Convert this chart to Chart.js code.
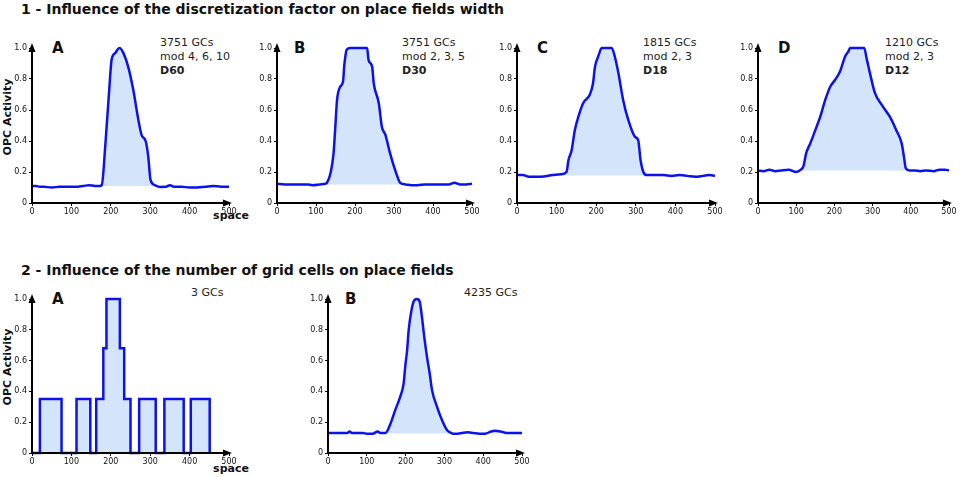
<!DOCTYPE html>
<html>
<head>
<meta charset="utf-8">
<script src="https://cdn.jsdelivr.net/npm/chart.js@4.4.1/dist/chart.umd.min.js"></script>
<style>
  body { margin: 0; background: #fff; width: 964px; height: 477px; position: relative; overflow: hidden; font-family: "DejaVu Sans", sans-serif; color: #111; }
  canvas { position: absolute; }
  .t { position: absolute; white-space: nowrap; }
  .title { font-size: 14px; font-weight: bold; line-height: 14px; }
  .note { font-size: 11px; line-height: 14px; color: #222; }
  .letter { font-size: 15px; font-weight: bold; line-height: 15px; }
  .ylab { font-size: 11px; font-weight: bold; line-height: 12px; transform: translate(-50%, -50%) rotate(-90deg); }
  .xlab { font-size: 11px; font-weight: bold; line-height: 12px; transform: translate(-50%, -50%); }
</style>
</head>
<body>

<div class="t title" style="left:21px; top:2px;">1 - Influence of the discretization factor on place fields width</div>
<div class="t title" style="left:21px; top:263px;">2 - Influence of the number of grid cells on place fields</div>

<div class="t ylab" style="left:8px; top:117px;">OPC Activity</div>
<div class="t ylab" style="left:8px; top:367px;">OPC Activity</div>
<div class="t xlab" style="left:231px; top:216px;">space</div>
<div class="t xlab" style="left:231px; top:469px;">space</div>

<div class="t letter" style="left:52px; top:41px;">A</div>
<div class="t letter" style="left:294px; top:41px;">B</div>
<div class="t letter" style="left:537px; top:41px;">C</div>
<div class="t letter" style="left:778px; top:41px;">D</div>
<div class="t letter" style="left:52px; top:292px;">A</div>
<div class="t letter" style="left:345px; top:292px;">B</div>

<div class="t note" style="left:160px; top:36px;">3751 GCs<br>mod 4, 6, 10<br><b>D60</b></div>
<div class="t note" style="left:402px; top:36px;">3751 GCs<br>mod 2, 3, 5<br><b>D30</b></div>
<div class="t note" style="left:643px; top:36px;">1815 GCs<br>mod 2, 3<br><b>D18</b></div>
<div class="t note" style="left:885px; top:36px;">1210 GCs<br>mod 2, 3<br><b>D12</b></div>
<div class="t note" style="left:191px; top:286px;">3 GCs</div>
<div class="t note" style="left:464px; top:286px;">4235 GCs</div>

<canvas id="c1a"></canvas>
<canvas id="c1b"></canvas>
<canvas id="c1c"></canvas>
<canvas id="c1d"></canvas>
<canvas id="c2a"></canvas>
<canvas id="c2b"></canvas>

<script>
// tick labels
const spaceTicks = [0, 100, 200, 300, 400, 500];
const activityTicks = [0, 0.2, 0.4, 0.6, 0.8, 1];

// 1A - D60, 3751 GCs
const spaceD60 = [0, 10, 20, 30, 50, 70, 90, 110, 130, 145, 160, 172, 177, 187, 196, 202, 211, 222, 232, 244, 257, 270, 278, 289, 295, 301, 312, 325, 340, 350, 360, 380, 400, 420, 440, 460, 480, 500];
const opcD60 = [0.11, 0.11, 0.105, 0.105, 0.10, 0.105, 0.105, 0.105, 0.11, 0.115, 0.11, 0.11, 0.115, 0.406, 0.73, 0.924, 0.967, 1.0, 0.967, 0.88, 0.73, 0.536, 0.44, 0.395, 0.30, 0.147, 0.115, 0.104, 0.105, 0.115, 0.105, 0.105, 0.10, 0.10, 0.105, 0.11, 0.105, 0.105];

// 1B - D30, 3751 GCs
const spaceD30 = [0, 20, 40, 60, 80, 90, 110, 125, 128, 137, 145, 149, 154, 162, 169, 173, 179, 188, 231, 235, 244, 248, 261, 269, 278, 290, 306, 316, 330, 345, 360, 380, 400, 420, 440, 455, 470, 485, 500];
const opcD30 = [0.125, 0.12, 0.12, 0.12, 0.12, 0.115, 0.12, 0.125, 0.13, 0.19, 0.32, 0.47, 0.665, 0.75, 0.78, 0.90, 0.99, 1.0, 1.0, 0.92, 0.88, 0.773, 0.644, 0.49, 0.44, 0.32, 0.19, 0.13, 0.12, 0.115, 0.115, 0.12, 0.12, 0.12, 0.12, 0.13, 0.12, 0.12, 0.125];

// 1C - D18, 1815 GCs
const spaceD18 = [0, 15, 30, 60, 90, 110, 125, 130, 138, 146, 155, 167, 184, 192, 197, 205, 214, 239, 247, 256, 268, 281, 298, 306, 312, 319, 328, 350, 370, 390, 410, 430, 450, 470, 485, 500];
const opcD18 = [0.18, 0.18, 0.17, 0.17, 0.18, 0.185, 0.20, 0.277, 0.34, 0.47, 0.557, 0.644, 0.70, 0.773, 0.88, 0.945, 1.0, 1.0, 0.945, 0.838, 0.665, 0.536, 0.427, 0.406, 0.277, 0.20, 0.18, 0.18, 0.18, 0.175, 0.18, 0.175, 0.17, 0.175, 0.18, 0.175];

// 1D - D12, 1210 GCs
const spaceD12 = [0, 15, 30, 45, 60, 80, 100, 112, 119, 126, 137, 150, 163, 176, 189, 202, 215, 228, 237, 241, 278, 285, 293, 306, 324, 345, 362, 376, 382, 387, 397, 410, 425, 440, 460, 475, 490, 500];
const opcD12 = [0.21, 0.205, 0.215, 0.205, 0.21, 0.215, 0.20, 0.215, 0.238, 0.32, 0.385, 0.47, 0.557, 0.665, 0.75, 0.795, 0.85, 0.945, 0.98, 1.0, 1.0, 0.925, 0.838, 0.71, 0.633, 0.557, 0.47, 0.385, 0.30, 0.223, 0.21, 0.21, 0.205, 0.21, 0.205, 0.215, 0.215, 0.21];

// 2A - 3 GCs (step edges, level holds until next edge)
const space3 = [0, 20, 75, 113, 148, 163, 181, 189, 223, 234, 250, 272, 314, 336, 385, 403, 451];
const opc3 = [0, 0.35, 0, 0.35, 0, 0.35, 0.68, 1.0, 0.68, 0.35, 0, 0.35, 0, 0.35, 0, 0.35, 0];

// 2B - 4235 GCs
const space4235 = [0, 20, 40, 50, 55, 62, 75, 90, 100, 115, 128, 135, 148, 161, 173, 186, 195, 199, 204, 208, 214, 221, 229, 236, 242, 248, 255, 262, 268, 281, 294, 307, 318, 324, 335, 345, 360, 375, 390, 405, 420, 430, 445, 460, 475, 490, 500];
const opc4235 = [0.13, 0.13, 0.13, 0.13, 0.14, 0.13, 0.13, 0.13, 0.125, 0.125, 0.14, 0.13, 0.13, 0.19, 0.277, 0.365, 0.452, 0.56, 0.67, 0.80, 0.91, 0.985, 1.0, 0.985, 0.886, 0.756, 0.626, 0.518, 0.41, 0.30, 0.213, 0.148, 0.13, 0.125, 0.125, 0.13, 0.135, 0.13, 0.125, 0.125, 0.14, 0.145, 0.14, 0.13, 0.13, 0.13, 0.13];

const FONT = 'DejaVu Sans';
const LINE = 'rgb(12, 18, 235)';
const FILL = 'rgb(212, 228, 250)';

// black axes with arrow heads, drawn over the data
const arrowAxes = {
    id: 'arrowAxes',
    afterDatasetsDraw(chart) {
        const { ctx, chartArea: a } = chart;
        ctx.save();
        ctx.strokeStyle = '#000';
        ctx.fillStyle = '#000';
        ctx.lineWidth = 2;
        ctx.beginPath();
        ctx.moveTo(a.left, a.bottom);
        ctx.lineTo(a.right - 3, a.bottom);
        ctx.moveTo(a.left, a.bottom);
        ctx.lineTo(a.left, a.top + 2);
        ctx.stroke();
        ctx.beginPath();
        ctx.moveTo(a.right + 3, a.bottom);
        ctx.lineTo(a.right - 6, a.bottom - 3.5);
        ctx.lineTo(a.right - 6, a.bottom + 3.5);
        ctx.closePath();
        ctx.fill();
        ctx.beginPath();
        ctx.moveTo(a.left, a.top - 5);
        ctx.lineTo(a.left - 3.5, a.top + 4);
        ctx.lineTo(a.left + 3.5, a.top + 4);
        ctx.closePath();
        ctx.fill();
        ctx.restore();
    }
};

function makePanel(id, rect, xs, ys, base, stepped) {
    const [L, T, R, B] = rect;
    const padL = 30, padT = 14, padR = 14, padB = 18;
    const canvas = document.getElementById(id);
    const w = (R - L) + padL + padR;
    const h = (B - T) + padT + padB;
    canvas.width = w;
    canvas.height = h;
    canvas.style.width = w + 'px';
    canvas.style.height = h + 'px';
    canvas.style.left = (L - padL) + 'px';
    canvas.style.top = (T - padT) + 'px';

    const tickFont = { family: FONT, size: 8 };
    const gridOpts = { display: true, drawOnChartArea: false, drawTicks: true, tickLength: 3, color: '#000', lineWidth: 1 };

    return new Chart(canvas, {
        type: 'line',
        data: {
            datasets: [{
                data: xs.map((x, i) => ({ x: x, y: ys[i] })),
                borderColor: LINE,
                borderWidth: 2.5,
                backgroundColor: FILL,
                fill: { value: base },
                pointRadius: 0,
                stepped: stepped ? true : false,
                cubicInterpolationMode: stepped ? 'default' : 'monotone',
                clip: false
            }]
        },
        options: {
            responsive: false,
            animation: false,
            layout: { padding: { left: 0, top: padT, right: padR, bottom: 0 } },
            plugins: { legend: { display: false }, tooltip: { enabled: false } },
            scales: {
                x: {
                    type: 'linear', min: 0, max: 500,
                    afterFit: s => { s.height = padB; },
                    afterBuildTicks: s => { s.ticks = spaceTicks.map(v => ({ value: v })); },
                    ticks: { font: tickFont, color: '#111', padding: 1, maxRotation: 0, autoSkip: false },
                    grid: gridOpts,
                    border: { display: false }
                },
                y: {
                    type: 'linear', min: 0, max: 1,
                    afterFit: s => { s.width = padL; },
                    afterBuildTicks: s => { s.ticks = activityTicks.map(v => ({ value: v })); },
                    ticks: { font: tickFont, color: '#111', padding: 2 },
                    grid: gridOpts,
                    border: { display: false }
                }
            }
        },
        plugins: [arrowAxes]
    });
}

makePanel('c1a', [32, 48, 229, 203], spaceD60, opcD60, 0.11);
makePanel('c1b', [277, 48, 472, 203], spaceD30, opcD30, 0.12);
makePanel('c1c', [517, 48, 715, 203], spaceD18, opcD18, 0.178);
makePanel('c1d', [758, 48, 949, 203], spaceD12, opcD12, 0.21);
makePanel('c2a', [32, 299, 229, 453], space3, opc3, 0, true);
makePanel('c2b', [328, 299, 522, 453], space4235, opc4235, 0.127);
</script>
</body>
</html>
